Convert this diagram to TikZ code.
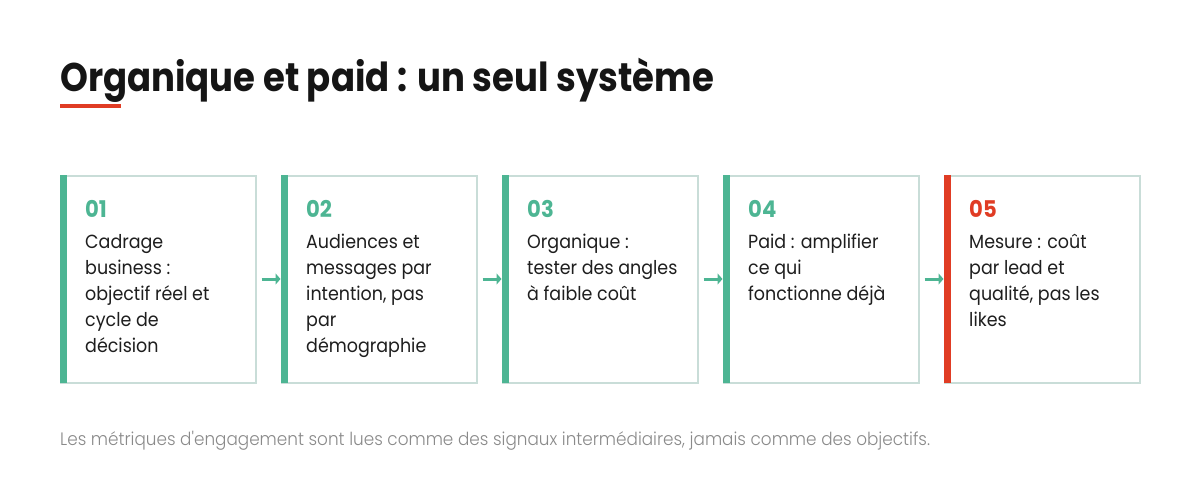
\documentclass[tikz,border=0pt]{standalone}
\usepackage{fontspec}
\setmainfont{Poppins}[FakeStretch=0.92]
\newfontfamily\titlefont{Poppins}[FakeStretch=0.887]
\newfontfamily\lightfont{Poppins Light}[FakeStretch=0.935]
\usetikzlibrary{arrows.meta}

\definecolor{stepgreen}{HTML}{4DB593}
\definecolor{accentred}{HTML}{E03C24}
\definecolor{cardline}{HTML}{C9DDD8}
\definecolor{titleink}{HTML}{151515}
\definecolor{bodyink}{HTML}{1E1E1E}
\definecolor{noteink}{HTML}{8A8A8A}

\tikzset{
  card/.style={draw=cardline, line width=2pt, minimum width=195pt, minimum height=207pt, inner sep=0pt},
  num/.style={anchor=base west, inner sep=0pt, font=\bfseries\fontsize{23}{23}\selectfont},
  % base of a multi-line node is its last line
  body/.style={anchor=base west, inner sep=0pt, align=left, font=\fontsize{19}{26}\selectfont, text=bodyink},
  flow/.style={-{Triangle[length=5pt,width=11pt]}, line width=3pt, draw=stepgreen, shorten <=5pt}
}

\begin{document}
\begin{tikzpicture}[x=1pt,y=-1pt]
\useasboundingbox (0,0) rectangle (1200,495);

\node[inner sep=0pt, anchor=base west, text=titleink, font=\titlefont\bfseries\fontsize{40}{40}\selectfont] (title) at (60,92) {Organique et paid : un seul système};
\fill[accentred] (60,104) rectangle (121,108);

% step 1
\node[card] (s1) at (158,279) {};
\fill[stepgreen] (60,175) rectangle (67,383);
\node[num, text=stepgreen] (n1) at (85,217) {01};
\node[body] (t1) at (85,352) {Cadrage\\business :\\objectif réel et\\cycle de\\décision};

% step 2
\node[card] (s2) at (379,279) {};
\fill[stepgreen] (281,175) rectangle (288,383);
\node[num, text=stepgreen] (n2) at (306,217) {02};
\node[body] (t2) at (306,352) {Audiences et\\messages par\\intention, pas\\par\\démographie};

% step 3
\node[card] (s3) at (600,279) {};
\fill[stepgreen] (502,175) rectangle (509,383);
\node[num, text=stepgreen] (n3) at (527,217) {03};
\node[body] (t3) at (527,300) {Organique :\\tester des angles\\à faible coût};

% step 4
\node[card] (s4) at (821,279) {};
\fill[stepgreen] (723,175) rectangle (730,383);
\node[num, text=stepgreen] (n4) at (748,217) {04};
\node[body] (t4) at (748,300) {Paid : amplifier\\ce qui\\fonctionne déjà};

% step 5
\node[card] (s5) at (1042,279) {};
\fill[accentred] (944,175) rectangle (951,383);
\node[num, text=accentred] (n5) at (969,217) {05};
\node[body] (t5) at (969,326) {Mesure : coût\\par lead et\\qualité, pas les\\likes};

\draw[flow] (s1.east) -- (s2.west);
\draw[flow] (s2.east) -- (s3.west);
\draw[flow] (s3.east) -- (s4.west);
\draw[flow] (s4.east) -- (s5.west);

\node[inner sep=0pt, anchor=base west, text=noteink, font=\lightfont\fontsize{18}{18}\selectfont] (note) at (60,445) {Les métriques d'engagement sont lues comme des signaux intermédiaires, jamais comme des objectifs.};
\end{tikzpicture}
\end{document}
